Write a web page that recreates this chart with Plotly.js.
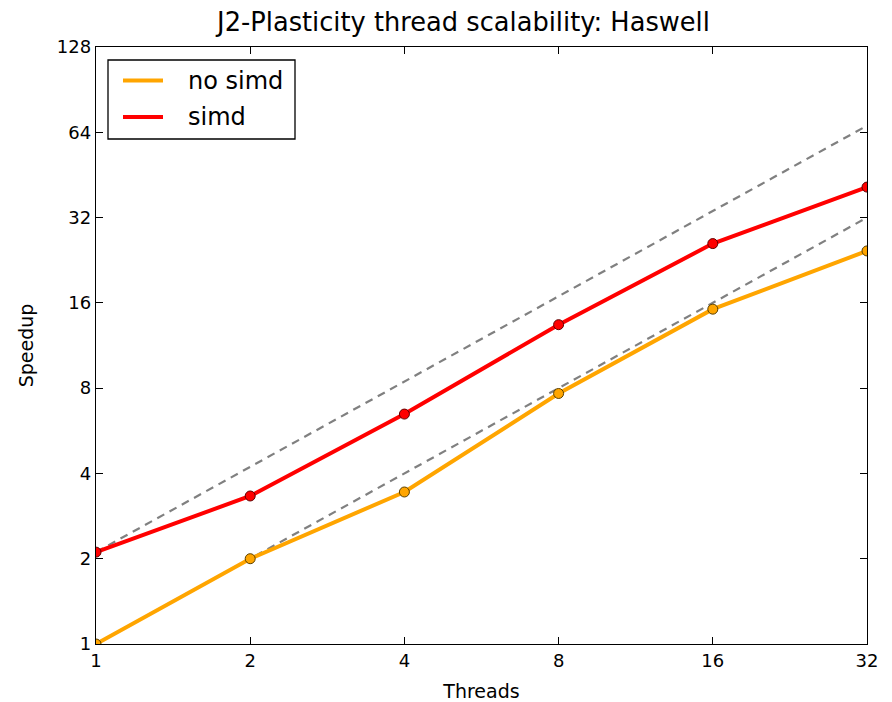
<!DOCTYPE html>
<html>
<head>
<meta charset="utf-8">
<script src="https://cdn.plot.ly/plotly-3.0.1.min.js"></script>
<style>html,body{margin:0;padding:0;background:#fff;}#chart{width:892px;height:702px;}</style>
</head>
<body>
<div id="chart"></div>
<script>
const threads = [1, 2, 4, 8, 16, 32];
const noSimd = [1.0, 2.0, 3.44, 7.66, 15.2, 24.4];
const simd = [2.11, 3.33, 6.48, 13.4, 25.9, 41.0];
const idealBase = [1.0, 2.11];
const tickVals = [1, 2, 4, 8, 16, 32, 64, 128];
const xTickVals = [1, 2, 4, 8, 16, 32];
const seriesNames = ['no simd', 'simd'];
const seriesColors = ['#FFA500', '#FF0000'];
const edgeColors = ['#5a4000', '#600000'];

const font = 'DejaVu Sans, sans-serif';
const W = 892, H = 702, ML = 96, MR = 25, MT = 47, MB = 58;
const PW = W - ML - MR, PH = H - MT - MB;
const px = v => (v - ML) / PW;
const py = v => (H - MB - v) / PH;

const traces = [];
idealBase.forEach(b => {
  traces.push({
    x: threads, y: threads.map(t => t * b), mode: 'lines', showlegend: false,
    line: {color: '#808080', width: 2.2, dash: '8px,6px'}, hoverinfo: 'skip'
  });
});
[noSimd, simd].forEach((ys, i) => {
  traces.push({
    x: threads, y: ys, name: seriesNames[i], mode: 'lines+markers', showlegend: false,
    line: {color: seriesColors[i], width: 4},
    marker: {size: 10, color: seriesColors[i], line: {color: edgeColors[i], width: 1}}
  });
});

// legend drawn as layout shapes/annotations
const shapes = [{
  type: 'rect', xref: 'paper', yref: 'paper', x0: px(108), x1: px(295), y0: py(139), y1: py(60),
  line: {color: '#000', width: 1.3}, fillcolor: '#fff', layer: 'above'
}];
const annotations = [];
const legendY = [80.5, 117];
seriesNames.forEach((n, i) => {
  shapes.push({
    type: 'line', xref: 'paper', yref: 'paper', x0: px(123), x1: px(163), y0: py(legendY[i]), y1: py(legendY[i]),
    line: {color: seriesColors[i], width: 4}, layer: 'above'
  });
  annotations.push({
    xref: 'paper', yref: 'paper', x: px(186), y: py(legendY[i]), xanchor: 'left', yanchor: 'middle',
    text: n, showarrow: false, font: {family: font, size: 24, color: '#000'}
  });
});

const axisCommon = {
  type: 'log', showline: true, linecolor: '#000', linewidth: 1.3, mirror: 'ticks',
  ticks: 'inside', ticklen: 7, tickcolor: '#000', showgrid: false, zeroline: false,
  tickfont: {family: font, size: 18, color: '#000'}
};

const layout = {
  width: W, height: H,
  margin: {l: ML, r: MR, t: MT, b: MB},
  paper_bgcolor: '#fff', plot_bgcolor: '#fff',
  title: {text: 'J2-Plasticity thread scalability: Haswell', font: {family: font, size: 25.7, color: '#000'}, x: 463.5 / W, xanchor: 'center', y: 0.969, yanchor: 'middle'},
  xaxis: Object.assign({}, axisCommon, {
    range: [0, Math.log10(32)], tickvals: xTickVals, ticktext: xTickVals.map(String),
    title: {text: 'Threads', font: {family: font, size: 19, color: '#000'}, standoff: 14}
  }),
  yaxis: Object.assign({}, axisCommon, {
    range: [0, Math.log10(128)], tickvals: tickVals, ticktext: tickVals.map(String),
    title: {text: 'Speedup', font: {family: font, size: 19, color: '#000'}, standoff: 18}
  }),
  shapes: shapes,
  annotations: annotations,
  showlegend: false
};

Plotly.newPlot('chart', traces, layout, {displayModeBar: false, staticPlot: true});
</script>
</body>
</html>
